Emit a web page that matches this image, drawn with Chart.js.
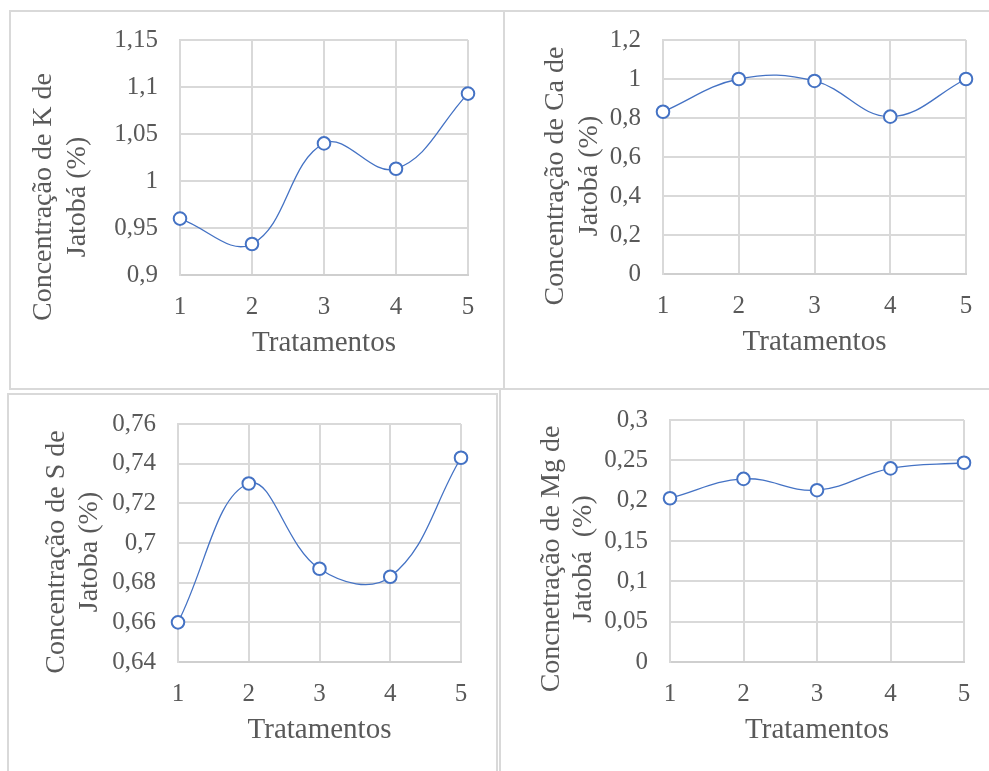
<!DOCTYPE html>
<html lang="pt">
<head>
<meta charset="UTF-8">
<title>Jatobá</title>
<script src="https://cdn.jsdelivr.net/npm/chart.js"></script>
<style>
  html, body { margin: 0; padding: 0; background: #fff; }
  #page { position: relative; width: 989px; height: 771px; overflow: hidden; background: #fff; }
  canvas { position: absolute; }
  .frame { position: absolute; border: 2px solid #d9d9d9; box-sizing: border-box; pointer-events: none; }
</style>
</head>
<body>
<div id="page"></div>
<script>
// dados
const tratamentos = ['1', '2', '3', '4', '5'];

const valoresK  = [0.96, 0.933, 1.04, 1.013, 1.093];
const valoresCa = [0.832, 1.0, 0.99, 0.807, 1.0];
const valoresS  = [0.66, 0.73, 0.687, 0.683, 0.743];
const valoresMg = [0.203, 0.227, 0.213, 0.24, 0.247];

const escalaK  = [0.9, 1.15, 0.05];
const escalaCa = [0, 1.2, 0.2];
const escalaS  = [0.64, 0.76, 0.02];
const escalaMg = [0, 0.3, 0.05];

const tituloK  = ['Concentração de K de', 'Jatobá (%)'];
const tituloCa = ['Concentração de Ca de', 'Jatobá (%)'];
const tituloS  = ['Concentração de S de', 'Jatoba (%)'];
const tituloMg = ['Concnetração de Mg de', 'Jatobá  (%)'];
const tituloX = 'Tratamentos';

const FONT = '"Liberation Serif", "Times New Roman", serif';
const TEXT = '#595959';
const BLUE = '#4472C4';
const GRID = '#d9d9d9';

// draws the two-line y axis title (rotated)
const yTitlePlugin = {
    id: 'yTitle',
    afterDraw(chart, args, opts) {
        const ctx = chart.ctx;
        ctx.save();
        ctx.font = '28px ' + FONT;
        ctx.fillStyle = TEXT;
        ctx.textAlign = 'center';
        ctx.textBaseline = 'middle';
        opts.lines.forEach(function (line, i) {
            ctx.save();
            ctx.translate(opts.x[i], opts.y);
            ctx.rotate(-Math.PI / 2);
            ctx.fillText(line, 0, 0);
            ctx.restore();
        });
        ctx.restore();
    }
};

function fmt(v) {
    return String(+(+v).toFixed(4)).replace('.', ',');
}

// panel = page rect, area = plot area in page coords, ty = title positions
function makeChart(panel, area, ty, values, escala, titulo) {
    const page = document.getElementById('page');
    const canvas = document.createElement('canvas');
    canvas.width = panel.w;
    canvas.height = panel.h;
    canvas.style.left = panel.x + 'px';
    canvas.style.top = panel.y + 'px';
    page.appendChild(canvas);
    const frame = document.createElement('div');
    frame.className = 'frame';
    frame.style.left = panel.x + 'px';
    frame.style.top = panel.y + 'px';
    frame.style.width = panel.w + 'px';
    frame.style.height = panel.h + 'px';
    page.appendChild(frame);

    const xHeight = 90;
    const yWidth = area.left - panel.x;
    const padBottom = panel.h - (area.bottom - panel.y) - xHeight;

    return new Chart(canvas, {
        type: 'line',
        data: {
            labels: tratamentos,
            datasets: [{
                data: values,
                borderColor: BLUE,
                borderWidth: 1.3,
                tension: 0.4,
                pointRadius: 6.3,
                pointHoverRadius: 6.3,
                pointBorderWidth: 2,
                pointBackgroundColor: '#ffffff',
                pointBorderColor: BLUE,
                clip: false
            }]
        },
        options: {
            responsive: false,
            animation: false,
            devicePixelRatio: 1,
            layout: {
                padding: {
                    top: area.top - panel.y,
                    right: panel.x + panel.w - area.right,
                    left: 0,
                    bottom: padBottom
                }
            },
            plugins: {
                legend: { display: false },
                tooltip: { enabled: false },
                yTitle: {
                    lines: titulo,
                    x: [ty.x[0] - panel.x, ty.x[1] - panel.x],
                    y: ty.y - panel.y
                }
            },
            scales: {
                x: {
                    grid: { color: GRID, lineWidth: 2, drawTicks: false },
                    border: { color: '#cfcfcf', width: 2 },
                    ticks: {
                        color: TEXT,
                        font: { family: FONT, size: 25 },
                        padding: 17,
                        maxRotation: 0
                    },
                    title: {
                        display: true,
                        text: tituloX,
                        color: TEXT,
                        font: { family: FONT, size: 29 },
                        padding: { top: 0, bottom: 4 }
                    },
                    afterFit: function (scale) { scale.height = xHeight; }
                },
                y: {
                    min: escala[0],
                    max: escala[1],
                    grid: { color: GRID, lineWidth: 2, drawTicks: false },
                    border: { color: GRID, width: 2 },
                    ticks: {
                        stepSize: escala[2],
                        color: TEXT,
                        font: { family: FONT, size: 25 },
                        padding: 22,
                        callback: fmt
                    },
                    afterFit: function (scale) {
                        scale.width = yWidth;
                        scale.paddingTop = 0;
                        scale.paddingBottom = 0;
                    }
                }
            }
        },
        plugins: [yTitlePlugin]
    });
}

makeChart({ x: 9, y: 10, w: 496, h: 380 },
          { left: 180, right: 468, top: 40, bottom: 275 },
          { x: [44, 78], y: 197 }, valoresK, escalaK, tituloK);
makeChart({ x: 503, y: 10, w: 500, h: 380 },
          { left: 663, right: 966, top: 40, bottom: 274 },
          { x: [556, 590], y: 176 }, valoresCa, escalaCa, tituloCa);
makeChart({ x: 7, y: 393, w: 491, h: 400 },
          { left: 178, right: 461, top: 424, bottom: 662 },
          { x: [57, 90], y: 552 }, valoresS, escalaS, tituloS);
makeChart({ x: 499, y: 388, w: 500, h: 400 },
          { left: 670, right: 964, top: 420, bottom: 662 },
          { x: [552, 584], y: 559 }, valoresMg, escalaMg, tituloMg);
</script>
</body>
</html>
